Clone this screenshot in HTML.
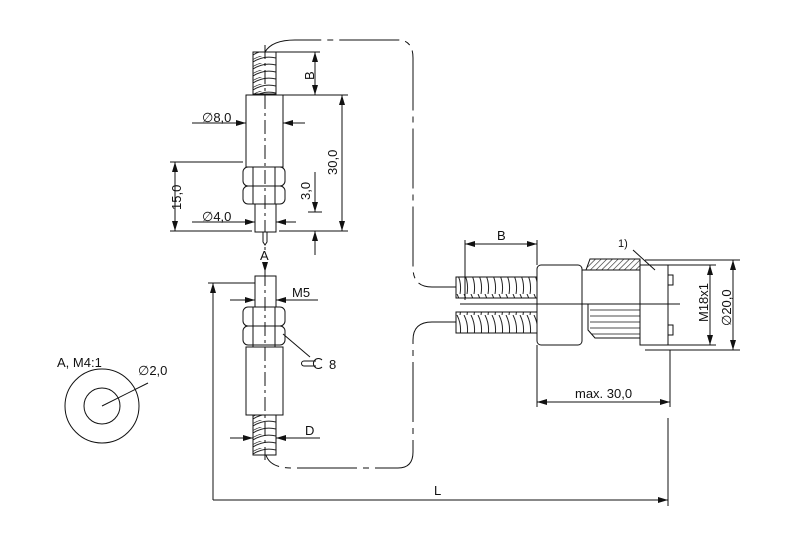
<!DOCTYPE html>
<html><head><meta charset="utf-8"><style>
html,body{margin:0;padding:0;background:#fff;}
svg{display:block;font-family:"Liberation Sans",Arial,sans-serif;}
</style></head><body>
<svg width="800" height="548" viewBox="0 0 800 548" xmlns="http://www.w3.org/2000/svg">
<defs>
<pattern id="thv" width="23" height="7" patternUnits="userSpaceOnUse" x="253">
<rect width="23" height="7" fill="#fff"/>
<path d="M0,6 Q11,-1 23,2" stroke="#222" stroke-width="1" fill="none"/>
<path d="M0,3.5 Q11,-3 23,-0.5" stroke="#222" stroke-width="0.6" fill="none"/>
</pattern>
<pattern id="thh" width="7" height="21" patternUnits="userSpaceOnUse" y="0">
<rect width="7" height="21" fill="#fff"/>
<path d="M2,0 Q7,10 5,21" stroke="#222" stroke-width="1" fill="none"/>
</pattern>
<pattern id="hatch" width="4" height="4" patternUnits="userSpaceOnUse" patternTransform="rotate(45)">
<rect width="4" height="4" fill="#fff"/><line x1="0" y1="0" x2="0" y2="4" stroke="#222" stroke-width="1.2"/>
</pattern>
<marker id="ar" markerWidth="10" markerHeight="6" refX="10" refY="3" orient="auto" markerUnits="userSpaceOnUse">
<path d="M0,0 L10,3 L0,6z" fill="#111"/></marker>
<marker id="al" markerWidth="10" markerHeight="6" refX="0" refY="3" orient="auto" markerUnits="userSpaceOnUse">
<path d="M10,0 L0,3 L10,6z" fill="#111"/></marker>
</defs>
<g stroke="#111" stroke-width="1" fill="none">
<!-- dashed cable -->
<path d="M265,52 Q272,40 295,40 L398,40 Q413,40 413,58 L413,268 Q413,287 432,287 L458,287" stroke-dasharray="60,6,6,6"/>
<path d="M458,322 L432,322 Q413,322 413,340 L413,452 Q413,468 398,468 L292,468 Q270,468 266,455" stroke-dasharray="60,6,6,6"/>

<!-- upper sensor -->
<rect x="253" y="52" width="23" height="42" fill="url(#thv)"/>
<rect x="246" y="95" width="37" height="72" fill="#fff"/>
<rect x="243" y="167" width="42" height="19" rx="5" fill="#fff"/>
<rect x="243" y="186" width="42" height="18" rx="5" fill="#fff"/>
<line x1="253" y1="167" x2="253" y2="204"/><line x1="275" y1="167" x2="275" y2="204"/>
<rect x="255" y="204" width="21" height="28" fill="#fff"/>
<path d="M263,232 L263,242 L265,245 L267,242 L267,232"/>
<line x1="265" y1="45" x2="265" y2="232" stroke-dasharray="14,4,3,4"/>
<!-- dims upper -->
<line x1="262" y1="52" x2="320" y2="52"/>
<line x1="283" y1="95" x2="348" y2="95"/>
<line x1="315" y1="52" x2="315" y2="95" marker-start="url(#al)" marker-end="url(#ar)"/>
<line x1="342" y1="95" x2="342" y2="231" marker-start="url(#al)" marker-end="url(#ar)"/>
<line x1="170" y1="162" x2="243" y2="162"/>
<line x1="170" y1="231" x2="252" y2="231"/><line x1="279" y1="231" x2="348" y2="231"/>
<line x1="175" y1="162" x2="175" y2="231" marker-start="url(#al)" marker-end="url(#ar)"/>
<line x1="315" y1="172" x2="315" y2="212" marker-end="url(#ar)"/>
<line x1="308" y1="212" x2="322" y2="212"/>
<line x1="315" y1="255" x2="315" y2="231" marker-end="url(#ar)"/>
<line x1="192" y1="123" x2="246" y2="123" marker-end="url(#ar)"/>
<line x1="305" y1="123" x2="283" y2="123" marker-end="url(#ar)"/>
<line x1="192" y1="222" x2="255" y2="222" marker-end="url(#ar)"/>
<line x1="296" y1="222" x2="276" y2="222" marker-end="url(#ar)"/>
<line x1="265" y1="247" x2="265" y2="250"/>
<line x1="265" y1="262" x2="265" y2="272" marker-end="url(#ar)"/>

<!-- lower sensor -->
<rect x="255" y="276" width="21" height="31" fill="#fff"/>
<rect x="243" y="307" width="42" height="19" rx="5" fill="#fff"/>
<rect x="243" y="326" width="42" height="19" rx="5" fill="#fff"/>
<line x1="253" y1="307" x2="253" y2="347"/><line x1="275" y1="307" x2="275" y2="347"/>
<rect x="246" y="347" width="37" height="68" fill="#fff"/>
<rect x="253" y="415" width="23" height="40" fill="url(#thv)"/>
<line x1="265" y1="272" x2="265" y2="460" stroke-dasharray="14,4,3,4"/>
<line x1="230" y1="300" x2="255" y2="300" marker-end="url(#ar)"/>
<line x1="318" y1="300" x2="276" y2="300" marker-end="url(#ar)"/>
<line x1="230" y1="438" x2="253" y2="438" marker-end="url(#ar)"/>
<line x1="320" y1="438" x2="276" y2="438" marker-end="url(#ar)"/>
<line x1="283" y1="334" x2="310" y2="357"/>
<path d="M316,361 L304,361 A2.5,2.5 0 0 0 304,366 L316,366"/>
<path d="M322,360 A5,5 0 1 0 322,367"/>
<!-- L dim -->
<line x1="208" y1="283" x2="255" y2="283"/>
<line x1="213" y1="500" x2="213" y2="283" marker-end="url(#ar)"/>
<line x1="213" y1="500" x2="668" y2="500" marker-end="url(#ar)"/>
<line x1="668" y1="418" x2="668" y2="506"/>

<!-- connector -->
<rect x="456" y="277" width="82" height="21" fill="url(#thh)"/>
<rect x="456" y="312" width="82" height="21" fill="url(#thh)"/>
<rect x="537" y="265" width="45" height="80" rx="4" fill="#fff"/>
<rect x="582" y="270" width="58" height="34" fill="#fff"/>
<path d="M586,270 L590,259 L640,259 L640,270z" fill="url(#hatch)"/>
<path d="M588,304 L640,304 L640,338 L595,338 L588,330z" fill="#fff"/>
<g stroke-width="0.8"><line x1="590" y1="310" x2="640" y2="310"/><line x1="590" y1="316" x2="640" y2="316"/><line x1="590" y1="322" x2="640" y2="322"/><line x1="590" y1="328" x2="640" y2="328"/><line x1="592" y1="334" x2="640" y2="334"/></g>
<rect x="640" y="265" width="28" height="80" fill="#fff"/>
<rect x="668" y="275" width="5" height="10" fill="#fff"/>
<rect x="668" y="325" width="5" height="10" fill="#fff"/>
<line x1="460" y1="304" x2="680" y2="304"/>
<line x1="465" y1="240" x2="465" y2="300"/>
<line x1="537" y1="240" x2="537" y2="265"/>
<line x1="465" y1="244" x2="537" y2="244" marker-start="url(#al)" marker-end="url(#ar)"/>
<line x1="645" y1="260" x2="740" y2="260"/><line x1="645" y1="265" x2="716" y2="265"/>
<line x1="645" y1="345" x2="716" y2="345"/><line x1="645" y1="350" x2="740" y2="350"/>
<line x1="710" y1="265" x2="710" y2="345" marker-start="url(#al)" marker-end="url(#ar)"/>
<line x1="733" y1="260" x2="733" y2="350" marker-start="url(#al)" marker-end="url(#ar)"/>
<line x1="537" y1="345" x2="537" y2="407"/><line x1="670" y1="350" x2="670" y2="407"/>
<line x1="537" y1="402" x2="670" y2="402" marker-start="url(#al)" marker-end="url(#ar)"/>
<line x1="633" y1="250" x2="655" y2="270"/>

<!-- washer -->
<circle cx="102" cy="406" r="37"/>
<circle cx="102" cy="406" r="18"/>
<line x1="102" y1="406" x2="148" y2="383"/>
</g>
<g fill="#111" font-size="13">
<text x="202" y="122">∅8,0</text>
<text x="202" y="221">∅4,0</text>
<text transform="translate(314,80) rotate(-90)">B</text>
<text transform="translate(337,175) rotate(-90)">30,0</text>
<text transform="translate(181,210) rotate(-90)">15,0</text>
<text transform="translate(310,200) rotate(-90)">3,0</text>
<text x="260" y="260">A</text>
<text x="292" y="297">M5</text>
<text x="305" y="435">D</text>
<text x="329" y="369">8</text>
<text x="434" y="495">L</text>
<text x="497" y="240">B</text>
<text x="618" y="247" font-size="11">1)</text>
<text transform="translate(708,322) rotate(-90)">M18x1</text>
<text transform="translate(731,326) rotate(-90)">∅20,0</text>
<text x="575" y="398">max. 30,0</text>
<text x="57" y="367">A, M4:1</text>
<text x="138" y="375">∅2,0</text>
</g>
</svg>
</body></html>
